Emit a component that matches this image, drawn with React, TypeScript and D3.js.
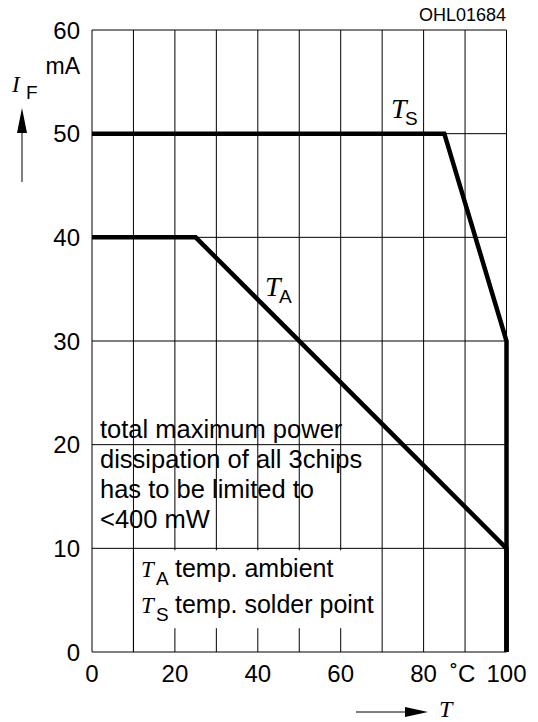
import React from "react"
import { scaleLinear, line, range } from "d3"

// series: temperature (°C) vs. forward current (mA)
const tempSolder = [0, 85, 100, 100]
const currentSolder = [50, 50, 30, 0]
const tempAmbient = [0, 25, 100, 100]
const currentAmbient = [40, 40, 10, 0]

const xTicks = [0, 20, 40, 60, 80, 100]
const yTicks = [0, 10, 20, 30, 40, 50, 60]
const xGrid = range(0, 101, 10)
const yGrid = range(0, 61, 10)

const noteLines = [
  "total maximum power",
  "dissipation of all 3chips",
  "has to be limited to",
  "<400 mW",
]

const sans = "'Liberation Sans', Arial, sans-serif"
const serif = "'Liberation Serif', 'Times New Roman', serif"

const App = () => {
  const width = 538
  const height = 722

  const xScale = scaleLinear().domain([0, 100]).range([92, 506.5])
  const yScale = scaleLinear().domain([0, 60]).range([652, 30])

  const path = line<[number, number]>()
    .x((d) => xScale(d[0]))
    .y((d) => yScale(d[1]))

  const solder = tempSolder.map((t, i) => [t, currentSolder[i]] as [number, number])
  const ambient = tempAmbient.map((t, i) => [t, currentAmbient[i]] as [number, number])

  const x0 = xScale(0)
  const x1 = xScale(100)
  const y0 = yScale(0)
  const y1 = yScale(60)

  return (
    <svg
      width={width}
      height={height}
      style={{ position: "absolute", left: 0, top: 0, background: "#fff" }}
    >
      {/* grid */}
      {xGrid.map((v) => (
        <line key={"gx" + v} x1={xScale(v)} x2={xScale(v)} y1={y0} y2={y1} stroke="#000" strokeWidth={1} />
      ))}
      {yGrid.map((v) => (
        <line key={"gy" + v} x1={x0} x2={x1} y1={yScale(v)} y2={yScale(v)} stroke="#000" strokeWidth={1} />
      ))}

      {/* white box behind the legend */}
      <rect x={137} y={yScale(10) + 2} width={241} height={yScale(2.3) - yScale(10) - 2} fill="#fff" />
      <line x1={xScale(10)} x2={xScale(10)} y1={y0} y2={yScale(10)} stroke="#000" strokeWidth={1} />

      {/* curves */}
      <path d={path(solder) || ""} fill="none" stroke="#000" strokeWidth={4.5} strokeLinejoin="miter" />
      <path d={path(ambient) || ""} fill="none" stroke="#000" strokeWidth={4.5} strokeLinejoin="miter" />

      {/* y tick labels */}
      {yTicks.map((v) => (
        <text key={"ty" + v} x={80} y={yScale(v)} dy="0.36em" textAnchor="end" fontFamily={sans} fontSize={24}>
          {v}
        </text>
      ))}
      <text x={80} y={74} textAnchor="end" fontFamily={sans} fontSize={23}>mA</text>

      {/* x tick labels */}
      {xTicks.map((v) => (
        <text key={"tx" + v} x={xScale(v)} y={682} textAnchor="middle" fontFamily={sans} fontSize={24}>
          {v}
        </text>
      ))}
      <text x={450} y={682} fontFamily={sans} fontSize={24}>˚C</text>

      {/* y axis title */}
      <text x={12} y={92} fontFamily={serif} fontStyle="italic" fontSize={23}>I</text>
      <text x={26} y={99} fontFamily={sans} fontSize={19}>F</text>
      <line x1={22} x2={22} y1={182} y2={130} stroke="#000" strokeWidth={1} />
      <path d="M17,133 L27,133 L22,108 Z" fill="#000" />

      {/* x axis title */}
      <line x1={356} x2={408} y1={712} y2={712} stroke="#000" strokeWidth={1} />
      <path d="M405,707 L405,717 L428,712 Z" fill="#000" />
      <text x={439} y={717} fontFamily={serif} fontStyle="italic" fontSize={24}>T</text>

      {/* figure code */}
      <text x={506} y={21} textAnchor="end" fontFamily={sans} fontSize={18}>OHL01684</text>

      {/* curve labels */}
      <text x={391} y={118} fontFamily={serif} fontStyle="italic" fontSize={28}>T</text>
      <text x={405} y={125} fontFamily={sans} fontSize={19}>S</text>
      <text x={265} y={296} fontFamily={serif} fontStyle="italic" fontSize={28}>T</text>
      <text x={279} y={303} fontFamily={sans} fontSize={19}>A</text>

      {/* note */}
      {noteLines.map((s, i) => (
        <text key={"n" + i} x={100} y={438 + i * 30} fontFamily={sans} fontSize={25.5}>
          {s}
        </text>
      ))}

      {/* legend */}
      <text x={141} y={577} fontFamily={serif} fontStyle="italic" fontSize={23}>T</text>
      <text x={156} y={585} fontFamily={sans} fontSize={19}>A</text>
      <text x={175} y={577} fontFamily={sans} fontSize={25}>temp. ambient</text>
      <text x={141} y={613} fontFamily={serif} fontStyle="italic" fontSize={23}>T</text>
      <text x={156} y={621} fontFamily={sans} fontSize={19}>S</text>
      <text x={175} y={613} fontFamily={sans} fontSize={25}>temp. solder point</text>
    </svg>
  )
}

export default App
